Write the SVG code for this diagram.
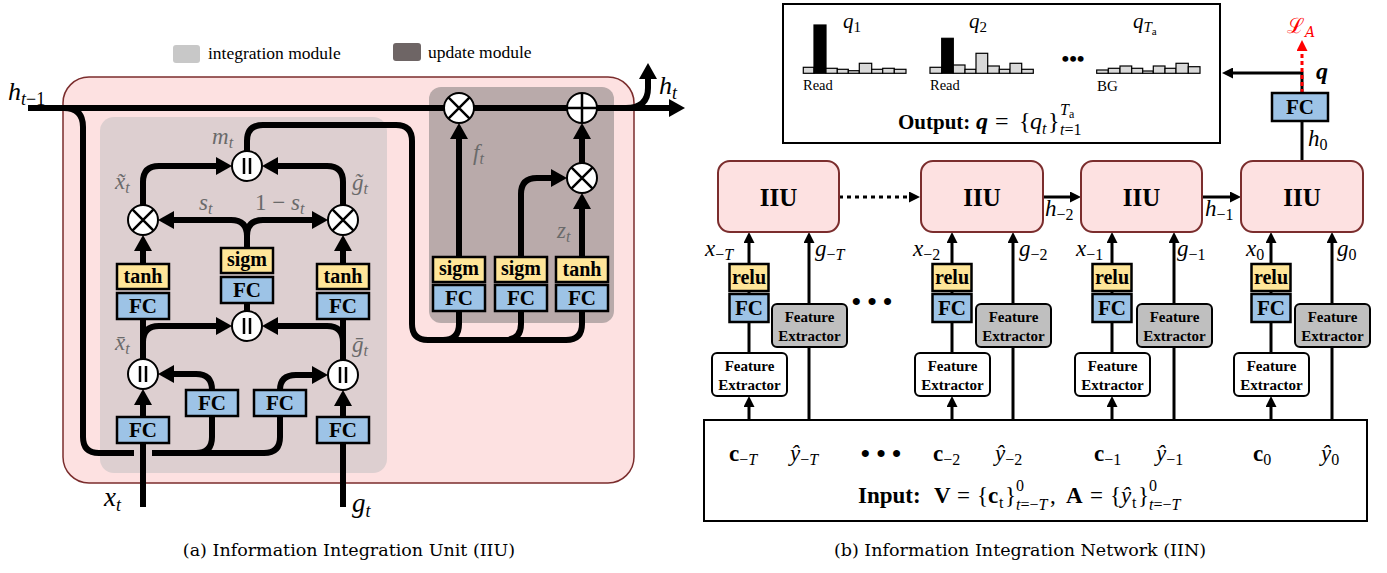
<svg xmlns="http://www.w3.org/2000/svg" width="1387" height="573" viewBox="0 0 1387 573">
<defs>
<style>
.ln{fill:none;stroke:#000;stroke-width:6;stroke-linejoin:round}
.lt{fill:none;stroke:#000;stroke-width:3}
.fc{fill:#9dc3e6;stroke:#000;stroke-width:2.5}
.act{fill:#ffe699;stroke:#000;stroke-width:2.5}
.op{fill:#fff;stroke:#000;stroke-width:2}
.opl{stroke:#000;stroke-width:2.5;fill:none}
.bt{font-family:"Liberation Serif",serif;font-weight:bold;text-anchor:middle;fill:#000}
.gl{font-family:"Liberation Serif",serif;font-style:italic;fill:#6a6a6a;font-size:23px}
.mt{font-family:"Liberation Serif",serif;font-style:italic;fill:#000}
.rm{font-family:"Liberation Serif",serif;fill:#000}
.cap{font-family:"DejaVu Serif",serif;fill:#000;font-size:17.5px;text-anchor:middle}
.iiu{fill:#fde1e1;stroke:#7b2d2d;stroke-width:2}
.fe{fill:#fff;stroke:#000;stroke-width:2}
.feg{fill:#bfbfbf;stroke:#000;stroke-width:2}
.bar{fill:#d9d9d9;stroke:#000;stroke-width:1.2}
.barb{fill:#000;stroke:#000;stroke-width:1.2}
</style>
<marker id="ah" markerUnits="userSpaceOnUse" viewBox="0 0 16 18" markerWidth="16" markerHeight="18" refX="7" refY="9" orient="auto"><path d="M0,0 L16,9 L0,18 z" fill="#000"/></marker>
<marker id="as" markerUnits="userSpaceOnUse" viewBox="0 0 11 11" markerWidth="11" markerHeight="11" refX="4" refY="5.5" orient="auto"><path d="M0,0 L11,5.5 L0,11 z" fill="#000"/></marker>
<marker id="ar" markerUnits="userSpaceOnUse" viewBox="0 0 11 11" markerWidth="11" markerHeight="11" refX="4" refY="5.5" orient="auto"><path d="M0,0 L11,5.5 L0,11 z" fill="#ff0000"/></marker>
</defs>
<rect width="1387" height="573" fill="#fff"/>

<!-- ===== (a) IIU ===== -->
<g id="legend">
<rect x="173" y="45" width="27" height="18" rx="3" fill="#c8c8c8"/>
<text class="rm" x="208" y="59" font-size="17.5">integration module</text>
<rect x="393" y="43" width="28" height="18" rx="3" fill="#6e6565"/>
<text class="rm" x="428" y="58" font-size="17.5">update module</text>
</g>
<g id="iiu-frame">
<rect x="63" y="77" width="571" height="406" rx="26" fill="#fde1e1" stroke="#7b2d2d" stroke-width="1.5"/>
<rect id="integration-module" x="100" y="117" width="287" height="356" rx="14" fill="#ddcfd0"/>
<rect id="update-module" x="429" y="87" width="185" height="236" rx="12" fill="#b9aaaa"/>
</g>

<g id="connectors-a">
<path class="ln" d="M28,108 L676,108" marker-end="url(#ah)"/>
<path class="ln" d="M626,108 Q648,108 648,88 L648,72" marker-end="url(#ah)"/>
<path class="ln" d="M64,108 Q83,108 83,127 L83,437 Q83,453 99,453 L134,453"/>
<path class="ln" d="M152,453 L264,453 Q280,453 280,437 L280,416"/>
<path class="ln" d="M196,453 Q212,453 212,437 L212,416"/>
<path class="ln" d="M143,507 L143,398" marker-end="url(#ah)"/>
<path class="ln" d="M343,507 L343,399" marker-end="url(#ah)"/>
<path class="ln" d="M212,390 Q212,374 196,374 L167,374" marker-end="url(#ah)"/>
<path class="ln" d="M280,390 Q280,375 296,375 L319,375" marker-end="url(#ah)"/>
<path class="ln" d="M143,359 L143,318"/>
<path class="ln" d="M143,342 Q143,326 159,326 L223,326" marker-end="url(#ah)"/>
<path class="ln" d="M343,360 L343,318"/>
<path class="ln" d="M343,342 Q343,326 327,326 L271,326" marker-end="url(#ah)"/>
<path class="ln" d="M247,311 L247,303"/>
<path class="ln" d="M143,264 L143,244" marker-end="url(#ah)"/>
<path class="ln" d="M343,264 L343,244" marker-end="url(#ah)"/>
<path class="ln" d="M247,248 L247,236 Q247,220 231,220 L167,220" marker-end="url(#ah)"/>
<path class="ln" d="M247,236 Q247,220 263,220 L319,220" marker-end="url(#ah)"/>
<path class="ln" d="M143,205 L143,182 Q143,166 159,166 L223,166" marker-end="url(#ah)"/>
<path class="ln" d="M343,205 L343,182 Q343,166 327,166 L271,166" marker-end="url(#ah)"/>
<path class="ln" d="M247,151 L247,141 Q247,125 263,125 L396,125 Q412,125 412,141 L412,324 Q412,340 428,340 L566,340 Q582,340 582,324 L582,311"/>
<path class="ln" d="M459,311 L459,324 Q459,340 443,340"/>
<path class="ln" d="M521,311 L521,324 Q521,340 505,340"/>
<path class="ln" d="M459,257 L459,132" marker-end="url(#ah)"/>
<path class="ln" d="M521,257 L521,194 Q521,178 537,178 L558,178" marker-end="url(#ah)"/>
<path class="ln" d="M582,257 L582,202" marker-end="url(#ah)"/>
<path class="ln" d="M582,163 L582,132" marker-end="url(#ah)"/>
</g>

<g id="fc-xt"><rect class="fc" x="117" y="417" width="52" height="26"/><text class="bt" x="143" y="437" font-size="21">FC</text></g>
<g id="fc-x2g"><rect class="fc" x="186" y="390" width="52" height="26"/><text class="bt" x="212" y="410" font-size="21">FC</text></g>
<g id="fc-g2x"><rect class="fc" x="254" y="390" width="52" height="26"/><text class="bt" x="280" y="410" font-size="21">FC</text></g>
<g id="fc-gt"><rect class="fc" x="317" y="417" width="52" height="26"/><text class="bt" x="343" y="437" font-size="21">FC</text></g>
<g id="fc-left"><rect class="fc" x="117" y="293" width="52" height="26"/><text class="bt" x="143" y="313" font-size="21">FC</text></g>
<g id="tanh-left"><rect class="act" x="117" y="264" width="52" height="25"/><text class="bt" x="143" y="283" font-size="20">tanh</text></g>
<g id="fc-mid"><rect class="fc" x="221" y="277" width="52" height="26"/><text class="bt" x="247" y="297" font-size="21">FC</text></g>
<g id="sigm-mid"><rect class="act" x="221" y="248" width="52" height="25"/><text class="bt" x="247" y="266" font-size="20">sigm</text></g>
<g id="fc-right"><rect class="fc" x="317" y="293" width="52" height="26"/><text class="bt" x="343" y="313" font-size="21">FC</text></g>
<g id="tanh-right"><rect class="act" x="317" y="264" width="52" height="25"/><text class="bt" x="343" y="283" font-size="20">tanh</text></g>
<g id="fc-u1"><rect class="fc" x="433" y="285" width="52" height="26"/><text class="bt" x="459" y="305" font-size="21">FC</text></g>
<g id="sigm-u1"><rect class="act" x="433" y="257" width="52" height="25"/><text class="bt" x="459" y="275" font-size="20">sigm</text></g>
<g id="fc-u2"><rect class="fc" x="495" y="285" width="52" height="26"/><text class="bt" x="521" y="305" font-size="21">FC</text></g>
<g id="sigm-u2"><rect class="act" x="495" y="257" width="52" height="25"/><text class="bt" x="521" y="275" font-size="20">sigm</text></g>
<g id="fc-u3"><rect class="fc" x="556" y="285" width="52" height="26"/><text class="bt" x="582" y="305" font-size="21">FC</text></g>
<g id="tanh-u3"><rect class="act" x="556" y="257" width="52" height="25"/><text class="bt" x="582" y="276" font-size="20">tanh</text></g>

<g id="cat-x"><circle class="op" cx="143" cy="374" r="15"/><path class="opl" d="M140,366 V382 M146,366 V382"/></g>
<g id="cat-g"><circle class="op" cx="343" cy="375" r="15"/><path class="opl" d="M340,367 V383 M346,367 V383"/></g>
<g id="cat-s"><circle class="op" cx="247" cy="326" r="15"/><path class="opl" d="M244,318 V334 M250,318 V334"/></g>
<g id="cat-m"><circle class="op" cx="247" cy="166" r="15"/><path class="opl" d="M244,158 V174 M250,158 V174"/></g>
<g id="mul-x"><circle class="op" cx="143" cy="220" r="15"/><path class="opl" d="M132.4,209.4 L153.6,230.6 M153.6,209.4 L132.4,230.6"/></g>
<g id="mul-g"><circle class="op" cx="343" cy="220" r="15"/><path class="opl" d="M332.4,209.4 L353.6,230.6 M353.6,209.4 L332.4,230.6"/></g>
<g id="mul-f"><circle class="op" cx="459" cy="108" r="15"/><path class="opl" d="M448.4,97.4 L469.6,118.6 M469.6,97.4 L448.4,118.6"/></g>
<g id="mul-z"><circle class="op" cx="582" cy="178" r="15"/><path class="opl" d="M571.4,167.4 L592.6,188.6 M592.6,167.4 L571.4,188.6"/></g>
<g id="add-h"><circle class="op" cx="582" cy="108" r="15"/><path class="opl" d="M567,108 H597 M582,93 V123"/></g>

<g id="labels-a">
<text class="mt" x="8" y="100" font-size="26">h<tspan font-size="18" dy="5">t</tspan><tspan font-size="18" font-style="normal">−1</tspan></text>
<text class="mt" x="659" y="94" font-size="26">h<tspan font-size="18" dy="5">t</tspan></text>
<text class="mt" x="104" y="506" font-size="27">x<tspan font-size="18" dy="5">t</tspan></text>
<text class="mt" x="352" y="512" font-size="27">g<tspan font-size="18" dy="5">t</tspan></text>
<text class="gl" x="212" y="144">m<tspan font-size="16" dy="4">t</tspan></text>
<text class="gl" x="115" y="189">x̃<tspan font-size="16" dy="4">t</tspan></text>
<text class="gl" x="352" y="190">g̃<tspan font-size="16" dy="4">t</tspan></text>
<text class="gl" x="199" y="210">s<tspan font-size="16" dy="4">t</tspan></text>
<text class="gl" x="255" y="210"><tspan font-style="normal">1 − </tspan>s<tspan font-size="16" dy="4">t</tspan></text>
<text class="gl" x="115" y="350">x̄<tspan font-size="16" dy="4">t</tspan></text>
<text class="gl" x="352" y="352">ḡ<tspan font-size="16" dy="4">t</tspan></text>
<text class="gl" x="473" y="160">f<tspan font-size="16" dy="4">t</tspan></text>
<text class="gl" x="557" y="238">z<tspan font-size="16" dy="4">t</tspan></text>
<text class="cap" x="349" y="556">(a) Information Integration Unit (IIU)</text>
</g>

<!-- ===== (b) IIN ===== -->
<g id="output-box">
<rect x="783" y="4" width="437" height="139" fill="#fff" stroke="#000" stroke-width="2"/>
<rect class="bar" x="803.3" y="67.3" width="10.7" height="6"/>
<rect class="barb" x="814" y="25" width="12" height="48.3"/>
<rect class="bar" x="826" y="68.3" width="11.3" height="5"/>
<rect class="bar" x="837.3" y="69.3" width="11" height="4"/>
<rect class="bar" x="848.3" y="70.7" width="11" height="2.6"/>
<rect class="bar" x="859.3" y="63.3" width="12.4" height="10"/>
<rect class="bar" x="871.7" y="69.3" width="11" height="4"/>
<rect class="bar" x="882.7" y="68.3" width="11.6" height="5"/>
<rect class="bar" x="894.3" y="69.3" width="11.7" height="4"/>
<rect class="bar" x="930" y="67.3" width="11.7" height="6"/>
<rect class="barb" x="941.7" y="38.3" width="11.6" height="35"/>
<rect class="bar" x="953.3" y="65" width="11.7" height="8.3"/>
<rect class="bar" x="965" y="69.3" width="11" height="4"/>
<rect class="bar" x="976" y="53.3" width="11.7" height="20"/>
<rect class="bar" x="987.7" y="66" width="11.6" height="7.3"/>
<rect class="bar" x="999.3" y="69.3" width="10.7" height="4"/>
<rect class="bar" x="1010" y="63.3" width="11.7" height="10"/>
<rect class="bar" x="1021.7" y="69.3" width="11.6" height="4"/>
<rect class="bar" x="1096.7" y="70" width="11.6" height="3.3"/>
<rect class="bar" x="1108.3" y="68.3" width="11.7" height="5"/>
<rect class="bar" x="1120" y="66" width="11.7" height="7.3"/>
<rect class="bar" x="1131.7" y="68.3" width="11" height="5"/>
<rect class="bar" x="1142.7" y="71" width="10.6" height="2.3"/>
<rect class="bar" x="1153.3" y="66" width="11.7" height="7.3"/>
<rect class="bar" x="1165" y="68.3" width="11" height="5"/>
<rect class="bar" x="1176" y="63.3" width="12.3" height="10"/>
<rect class="bar" x="1188.3" y="66.7" width="11.7" height="6.6"/>
<text class="mt" x="843" y="28" font-size="21">q<tspan font-size="15" dy="4" font-style="normal">1</tspan></text>
<text class="mt" x="969" y="28" font-size="21">q<tspan font-size="15" dy="4" font-style="normal">2</tspan></text>
<text class="mt" x="1133" y="28" font-size="21">q<tspan font-size="15" dy="4">T</tspan><tspan font-size="11" dy="3" font-style="normal">a</tspan></text>
<text class="rm" x="803" y="90" font-size="14.5">Read</text>
<text class="rm" x="930" y="90" font-size="14.5">Read</text>
<text class="rm" x="1097" y="91" font-size="15">BG</text>
<text class="bt" x="1073" y="66" font-size="22">•••</text>
<text class="rm" y="129" font-size="24"><tspan x="898" font-weight="bold" font-size="21">Output:</tspan><tspan x="976" font-weight="bold" font-style="italic">q</tspan><tspan x="995">=</tspan><tspan x="1019">{</tspan><tspan x="1030" font-style="italic">q</tspan><tspan x="1042" dy="5" font-size="16" font-style="italic">t</tspan><tspan x="1048" dy="-5">}</tspan><tspan x="1060" dy="-14" font-size="16" font-style="italic">T</tspan><tspan dy="3" font-size="12">a</tspan><tspan x="1060" dy="17" font-size="16" font-style="italic">t</tspan><tspan font-size="16">=1</tspan></text>
</g>

<g id="connectors-b">
<path class="lt" d="M839,197 L913,197" stroke-dasharray="4 4" stroke-width="3.5" marker-end="url(#as)"/>
<path class="lt" d="M1043,197 L1074,197" marker-end="url(#as)"/>
<path class="lt" d="M1202,197 L1234,197" marker-end="url(#as)"/>
<path class="lt" d="M1302,161 L1302,121"/>
<path class="lt" d="M1302,93 L1302,73 L1229,73" marker-end="url(#as)"/>
<path d="M1302,93 L1302,47" fill="none" stroke="#ff0000" stroke-width="3" stroke-dasharray="4 3" marker-end="url(#ar)"/>
<path class="lt" d="M749,420 L749,403" marker-end="url(#as)"/>
<path class="lt" d="M749,353 L749,239" marker-end="url(#as)"/>
<path class="lt" d="M809,420 L809,239" marker-end="url(#as)"/>
<path class="lt" d="M952,420 L952,403" marker-end="url(#as)"/>
<path class="lt" d="M952,353 L952,239" marker-end="url(#as)"/>
<path class="lt" d="M1013,420 L1013,239" marker-end="url(#as)"/>
<path class="lt" d="M1112,420 L1112,403" marker-end="url(#as)"/>
<path class="lt" d="M1112,353 L1112,239" marker-end="url(#as)"/>
<path class="lt" d="M1174,420 L1174,239" marker-end="url(#as)"/>
<path class="lt" d="M1271,420 L1271,403" marker-end="url(#as)"/>
<path class="lt" d="M1271,353 L1271,239" marker-end="url(#as)"/>
<path class="lt" d="M1332,420 L1332,239" marker-end="url(#as)"/>
</g>

<g id="fc-out"><rect class="fc" x="1272" y="93" width="56" height="28"/><text class="bt" x="1300" y="114" font-size="21">FC</text></g>
<g id="iiu-1"><rect class="iiu" x="718" y="161" width="121" height="71" rx="12"/><text class="bt" x="778.5" y="206" font-size="25">IIU</text></g>
<g id="iiu-2"><rect class="iiu" x="921" y="161" width="122" height="71" rx="12"/><text class="bt" x="982" y="206" font-size="25">IIU</text></g>
<g id="iiu-3"><rect class="iiu" x="1081" y="161" width="121" height="71" rx="12"/><text class="bt" x="1141.5" y="206" font-size="25">IIU</text></g>
<g id="iiu-4"><rect class="iiu" x="1241" y="161" width="122" height="71" rx="12"/><text class="bt" x="1302" y="206" font-size="25">IIU</text></g>

<g id="col-1">
<rect class="act" x="729.5" y="264" width="39" height="27"/><text class="bt" x="749" y="284" font-size="20">relu</text>
<rect class="fc" x="729.5" y="294" width="39" height="28"/><text class="bt" x="749" y="315" font-size="21">FC</text>
<rect class="fe" x="712" y="353" width="75" height="43" rx="5"/><text class="bt" x="749.5" y="371" font-size="15">Feature</text><text class="bt" x="749.5" y="390" font-size="15">Extractor</text>
<rect class="feg" x="772" y="304" width="75" height="43" rx="5"/><text class="bt" x="809.5" y="322" font-size="15">Feature</text><text class="bt" x="809.5" y="341" font-size="15">Extractor</text>
</g>
<g id="col-2">
<rect class="act" x="932.5" y="264" width="39" height="27"/><text class="bt" x="952" y="284" font-size="20">relu</text>
<rect class="fc" x="932.5" y="294" width="39" height="28"/><text class="bt" x="952" y="315" font-size="21">FC</text>
<rect class="fe" x="915" y="353" width="75" height="43" rx="5"/><text class="bt" x="952.5" y="371" font-size="15">Feature</text><text class="bt" x="952.5" y="390" font-size="15">Extractor</text>
<rect class="feg" x="976" y="304" width="75" height="43" rx="5"/><text class="bt" x="1013.5" y="322" font-size="15">Feature</text><text class="bt" x="1013.5" y="341" font-size="15">Extractor</text>
</g>
<g id="col-3">
<rect class="act" x="1092.5" y="264" width="39" height="27"/><text class="bt" x="1112" y="284" font-size="20">relu</text>
<rect class="fc" x="1092.5" y="294" width="39" height="28"/><text class="bt" x="1112" y="315" font-size="21">FC</text>
<rect class="fe" x="1075" y="353" width="75" height="43" rx="5"/><text class="bt" x="1112.5" y="371" font-size="15">Feature</text><text class="bt" x="1112.5" y="390" font-size="15">Extractor</text>
<rect class="feg" x="1137" y="304" width="75" height="43" rx="5"/><text class="bt" x="1174.5" y="322" font-size="15">Feature</text><text class="bt" x="1174.5" y="341" font-size="15">Extractor</text>
</g>
<g id="col-4">
<rect class="act" x="1251.5" y="264" width="39" height="27"/><text class="bt" x="1271" y="284" font-size="20">relu</text>
<rect class="fc" x="1251.5" y="294" width="39" height="28"/><text class="bt" x="1271" y="315" font-size="21">FC</text>
<rect class="fe" x="1234" y="353" width="75" height="43" rx="5"/><text class="bt" x="1271.5" y="371" font-size="15">Feature</text><text class="bt" x="1271.5" y="390" font-size="15">Extractor</text>
<rect class="feg" x="1295" y="304" width="75" height="43" rx="5"/><text class="bt" x="1332.5" y="322" font-size="15">Feature</text><text class="bt" x="1332.5" y="341" font-size="15">Extractor</text>
</g>

<g id="input-box">
<rect x="704" y="420" width="663" height="101" fill="#fff" stroke="#000" stroke-width="2"/>
<text class="rm" x="729" y="461" font-size="23"><tspan font-weight="bold">c</tspan><tspan font-size="16" dy="4">−</tspan><tspan font-size="16" font-style="italic">T</tspan></text>
<text class="mt" x="790" y="461" font-size="23">ŷ<tspan font-size="16" dy="4" font-style="normal">−</tspan><tspan font-size="16">T</tspan></text>
<text class="bt" x="881" y="462" font-size="26">• • •</text>
<text class="rm" x="933" y="461" font-size="23"><tspan font-weight="bold">c</tspan><tspan font-size="16" dy="4">−2</tspan></text>
<text class="mt" x="995" y="461" font-size="23">ŷ<tspan font-size="16" dy="4" font-style="normal">−2</tspan></text>
<text class="rm" x="1094" y="461" font-size="23"><tspan font-weight="bold">c</tspan><tspan font-size="16" dy="4">−1</tspan></text>
<text class="mt" x="1156" y="461" font-size="23">ŷ<tspan font-size="16" dy="4" font-style="normal">−1</tspan></text>
<text class="rm" x="1253" y="461" font-size="23"><tspan font-weight="bold">c</tspan><tspan font-size="16" dy="4">0</tspan></text>
<text class="mt" x="1321" y="461" font-size="23">ŷ<tspan font-size="16" dy="4" font-style="normal">0</tspan></text>
<text class="rm" y="503" font-size="23"><tspan x="858" font-weight="bold">Input:</tspan><tspan x="934" font-weight="bold">V</tspan><tspan x="957">=</tspan><tspan x="977">{</tspan><tspan x="988" font-weight="bold">c</tspan><tspan x="999" dy="5" font-size="16">t</tspan><tspan x="1005" dy="-5">}</tspan><tspan x="1016" dy="-12" font-size="16">0</tspan><tspan x="1016" dy="19" font-size="16" font-style="italic">t</tspan><tspan font-size="16">=−</tspan><tspan font-size="16" font-style="italic">T</tspan><tspan x="1050" dy="-7">,</tspan><tspan x="1066" font-weight="bold">A</tspan><tspan x="1090">=</tspan><tspan x="1110">{</tspan><tspan x="1121" font-style="italic">ŷ</tspan><tspan x="1132" dy="5" font-size="16">t</tspan><tspan x="1138" dy="-5">}</tspan><tspan x="1149" dy="-12" font-size="16">0</tspan><tspan x="1149" dy="19" font-size="16" font-style="italic">t</tspan><tspan font-size="16">=−</tspan><tspan font-size="16" font-style="italic">T</tspan></text>
</g>

<g id="labels-b">
<text class="mt" x="705" y="256" font-size="23">x<tspan font-size="16" dy="4" font-style="normal">−</tspan><tspan font-size="16">T</tspan></text>
<text class="mt" x="815" y="256" font-size="23">g<tspan font-size="16" dy="4" font-style="normal">−</tspan><tspan font-size="16">T</tspan></text>
<text class="mt" x="913" y="256" font-size="23">x<tspan font-size="16" dy="4" font-style="normal">−2</tspan></text>
<text class="mt" x="1019" y="256" font-size="23">g<tspan font-size="16" dy="4" font-style="normal">−2</tspan></text>
<text class="mt" x="1076" y="256" font-size="23">x<tspan font-size="16" dy="4" font-style="normal">−1</tspan></text>
<text class="mt" x="1177" y="256" font-size="23">g<tspan font-size="16" dy="4" font-style="normal">−1</tspan></text>
<text class="mt" x="1246" y="256" font-size="23">x<tspan font-size="16" dy="4" font-style="normal">0</tspan></text>
<text class="mt" x="1337" y="256" font-size="23">g<tspan font-size="16" dy="4" font-style="normal">0</tspan></text>
<text class="mt" x="1045" y="216" font-size="23">h<tspan font-size="16" dy="4" font-style="normal">−2</tspan></text>
<text class="mt" x="1205" y="216" font-size="23">h<tspan font-size="16" dy="4" font-style="normal">−1</tspan></text>
<text class="mt" x="1308" y="146" font-size="23">h<tspan font-size="16" dy="4" font-style="normal">0</tspan></text>
<text class="mt" x="1316" y="79" font-size="24" font-weight="bold">q</text>
<text x="1287" y="33" font-size="21" fill="#ff0000" font-family="'DejaVu Serif','Liberation Serif',serif">ℒ<tspan font-size="14" dy="4" font-style="italic">A</tspan></text>
<text class="bt" x="872" y="310" font-size="26">• • •</text>
<text class="cap" x="1020" y="556">(b) Information Integration Network (IIN)</text>
</g>
</svg>
